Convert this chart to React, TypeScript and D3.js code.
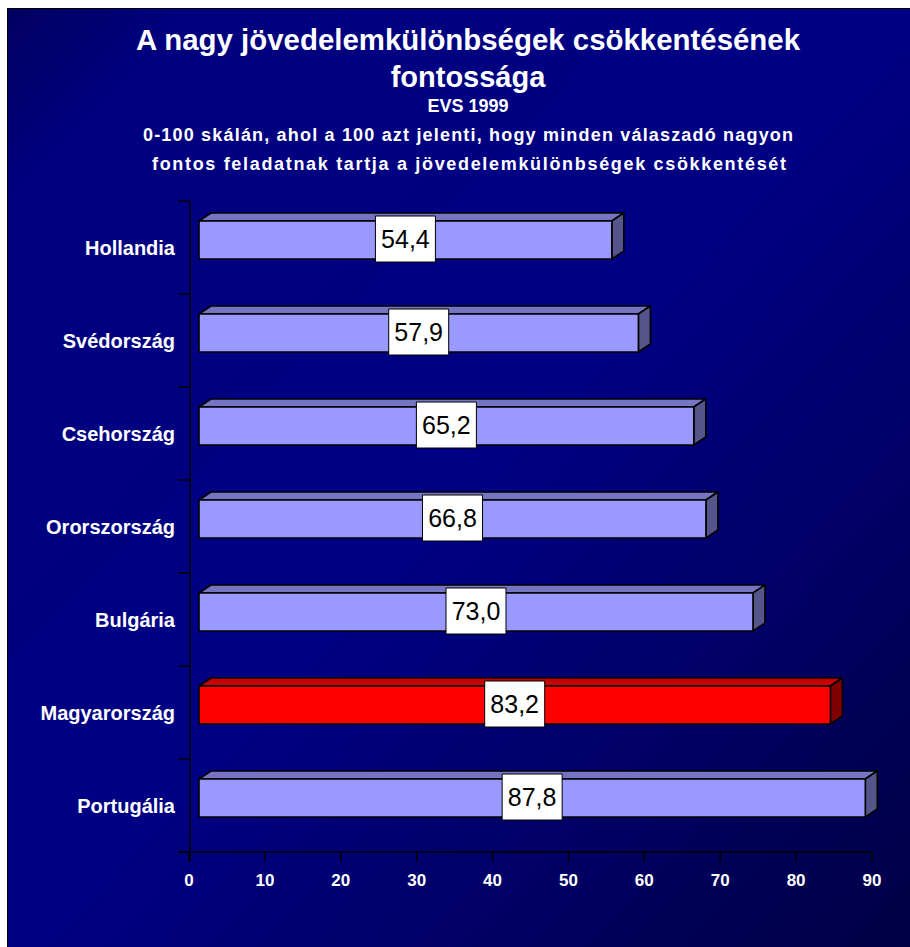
import React, { useMemo } from 'react';
import * as d3 from 'd3';

const countries = ['Hollandia', 'Svédország', 'Csehország', 'Ororszország', 'Bulgária', 'Magyarország', 'Portugália'];
const values = [54.4, 57.9, 65.2, 66.8, 73.0, 83.2, 87.8];
const highlighted = ['Magyarország'];
const xTicks = [0, 10, 20, 30, 40, 50, 60, 70, 80, 90];

const titleLines = ['A nagy jövedelemkülönbségek csökkentésének', 'fontossága'];
const sourceLine = 'EVS 1999';
const noteLines = [
  '0-100 skálán, ahol a 100 azt jelenti, hogy minden válaszadó nagyon',
  'fontos feladatnak tartja a jövedelemkülönbségek csökkentését',
];

const W = 910;
const H = 947;
const FONT = "Arial, 'Liberation Sans', sans-serif";

// 3D bar look
const depthX = 12;
const depthY = 8;
const frontShift = 10;
const barTopInBand = 20;
const barH = 38;

const blueFaces = { front: '#9999ff', top: '#7575c4', side: '#55558c' };
const redFaces = { front: '#ff0000', top: '#c80000', side: '#800000' };

const fmt = (v: number) => v.toFixed(1).replace('.', ',');

export default function App() {
  const x = useMemo(() => d3.scaleLinear().domain([0, 90]).range([189, 872]), []);
  const y = useMemo(() => d3.scaleBand<string>().domain(countries).range([201, 852]).padding(0), []);
  const axisX = 190;
  const axisY = 852;

  const boundaries = d3.range(countries.length + 1).map(i => 201 + i * y.step());

  return (
    <svg width={W} height={H} style={{ position: 'absolute', left: 0, top: 0 }} fontFamily={FONT}>
      <defs>
        <linearGradient id="bg" x1="0" y1="0" x2="1" y2="1">
          <stop offset="0%" stopColor="#000060" />
          <stop offset="10%" stopColor="#00007e" />
          <stop offset="50%" stopColor="#000084" />
          <stop offset="100%" stopColor="#000044" />
        </linearGradient>
      </defs>
      <rect x={7.5} y={8.5} width={W} height={H} fill="url(#bg)" stroke="#000" strokeWidth={1} />

      {/* titles */}
      <g fill="#fff" fontWeight="bold" textAnchor="middle">
        <text x={468} y={50} fontSize={29} textLength={664} lengthAdjust="spacingAndGlyphs">{titleLines[0]}</text>
        <text x={468} y={87} fontSize={29}>{titleLines[1]}</text>
        <text x={468} y={112} fontSize={18}>{sourceLine}</text>
        <text x={468} y={141} fontSize={18} textLength={650} lengthAdjust="spacing">{noteLines[0]}</text>
        <text x={469} y={170} fontSize={18} textLength={634} lengthAdjust="spacing">{noteLines[1]}</text>
      </g>

      {/* axes */}
      <g stroke="#000" strokeWidth={1.5}>
        <line x1={axisX} x2={axisX} y1={201} y2={862} />
        <line x1={178} x2={x(90)} y1={axisY} y2={axisY} />
        {boundaries.map(b => (
          <line key={'yt' + b} x1={178} x2={axisX} y1={b} y2={b} />
        ))}
        {xTicks.map(t => (
          <line key={'xt' + t} x1={x(t)} x2={x(t)} y1={axisY} y2={862} />
        ))}
      </g>
      <g fill="#fff" fontWeight="bold" fontSize={17} textAnchor="middle">
        {xTicks.map(t => (
          <text key={'xl' + t} x={x(t)} y={886}>{t}</text>
        ))}
      </g>
      <g fill="#fff" fontWeight="bold" fontSize={20} textAnchor="end">
        {countries.map(c => (
          <text key={'cl' + c} x={175} y={(y(c) as number) + y.bandwidth() / 2 + 7}>{c}</text>
        ))}
      </g>

      {/* bars */}
      {countries.map((c, i) => {
        const v = values[i];
        const faces = highlighted.includes(c) ? redFaces : blueFaces;
        const x0 = x(0) + frontShift;
        const x1 = x(v) + frontShift;
        const t = (y(c) as number) + barTopInBand;
        const b = t + barH;
        const topPts = `${x0},${t} ${x0 + depthX},${t - depthY} ${x1 + depthX},${t - depthY} ${x1},${t}`;
        const sidePts = `${x1},${t} ${x1 + depthX},${t - depthY} ${x1 + depthX},${b - depthY} ${x1},${b}`;
        const cx = (x0 + x1) / 2;
        const cy = (t + b) / 2 - 1;
        return (
          <g key={'bar' + c} stroke="#000" strokeWidth={1.6} strokeLinejoin="round">
            <polygon points={topPts} fill={faces.top} />
            <polygon points={sidePts} fill={faces.side} />
            <rect x={x0} y={t} width={x1 - x0} height={barH} fill={faces.front} />
            <rect x={cx - 30} y={cy - 23} width={60} height={46} fill="#fff" strokeWidth={1} />
            <text x={cx} y={cy + 9} textAnchor="middle" fontSize={25} fill="#000" stroke="none">{fmt(v)}</text>
          </g>
        );
      })}
    </svg>
  );
}
